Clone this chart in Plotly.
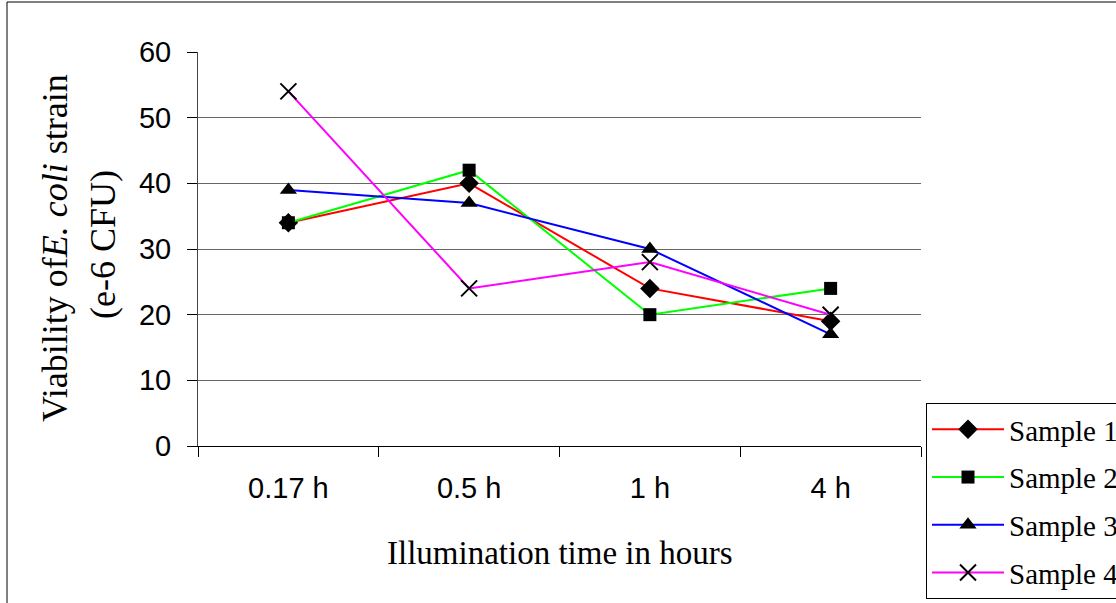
import plotly.graph_objects as go

categories = ["0.17 h", "0.5 h", "1 h", "4 h"]
sample1 = [34, 40, 24, 19]
sample2 = [34, 42, 20, 24]
sample3 = [39, 37, 30, 17]
sample4 = [54, 24, 28, 20]
series_names = ["Sample 1", "Sample 2", "Sample 3", "Sample 4"]
y_ticks = [0, 10, 20, 30, 40, 50, 60]

series = [sample1, sample2, sample3, sample4]
colors = ["#ff0000", "#00ff00", "#0000ff", "#ff00ff"]
symbols = ["diamond", "square", "triangle-up", "x-thin-open"]
msizes = [15, 13, 15, 16]

W, H = 1116, 603
L, R, T, B = 198, 921, 52, 446
pw, ph = R - L, B - T

def px(x):
    return (x - L) / pw

def py(y):
    return (B - y) / ph

fig = go.Figure()
for i, (name, vals) in enumerate(zip(series_names, series)):
    marker = dict(symbol=symbols[i], size=msizes[i], color="black")
    if symbols[i].endswith("open"):
        marker["line"] = dict(color="black", width=2)
    fig.add_trace(go.Scatter(
        x=categories, y=vals, name=name, mode="lines+markers",
        line=dict(color=colors[i], width=2), marker=marker,
        legendgroup=name,
    ))

fig.update_layout(
    width=W, height=H,
    margin=dict(l=L, r=W - R, t=T, b=H - B, pad=0, autoexpand=False),
    paper_bgcolor="white", plot_bgcolor="white",
    showlegend=True,
    legend=dict(
        x=px(926), y=py(403), xanchor="left", yanchor="top",
        bgcolor="white", bordercolor="black", borderwidth=1,
        font=dict(family="Liberation Serif", size=29, color="black"),
        itemwidth=72, tracegroupgap=7, traceorder="grouped",
    ),
    xaxis=dict(
        type="category", categoryorder="array", categoryarray=categories,
        range=[-0.5, 3.5], showgrid=False, zeroline=False,
        showline=True, linecolor="black", linewidth=1,
        ticks="outside", tickson="boundaries", ticklen=10, tickcolor="black",
        tickfont=dict(family="Liberation Sans", size=29, color="black"),
        ticklabelstandoff=16,
    ),
    yaxis=dict(
        range=[0, 60], tickvals=y_ticks, showgrid=True, gridcolor="#666666",
        gridwidth=1, zeroline=False,
        showline=True, linecolor="#444444", linewidth=1,
        ticks="outside", ticklen=10, tickcolor="black",
        tickfont=dict(family="Liberation Sans", size=29, color="black"),
        ticklabelstandoff=10,
    ),
    shapes=[dict(type="rect", xref="paper", yref="paper",
                 x0=px(7), x1=px(1130), y0=py(610), y1=py(2),
                 line=dict(color="black", width=1), fillcolor="rgba(0,0,0,0)")],
    annotations=[
        dict(text="Illumination time in hours", xref="paper", yref="paper",
             x=px(560), y=py(553), xanchor="center", yanchor="middle",
             showarrow=False,
             font=dict(family="Liberation Serif", size=33, color="black")),
        dict(text="Viability of<i>E. coli</i> strain", xref="paper", yref="paper",
             x=px(55), y=py(248), xanchor="center", yanchor="middle",
             textangle=-90, showarrow=False,
             font=dict(family="Liberation Serif", size=36, color="black")),
        dict(text="(e-6 CFU)", xref="paper", yref="paper",
             x=px(103), y=py(245), xanchor="center", yanchor="middle",
             textangle=-90, showarrow=False,
             font=dict(family="Liberation Serif", size=36, color="black")),
    ],
)

fig.write_html("out.html")
